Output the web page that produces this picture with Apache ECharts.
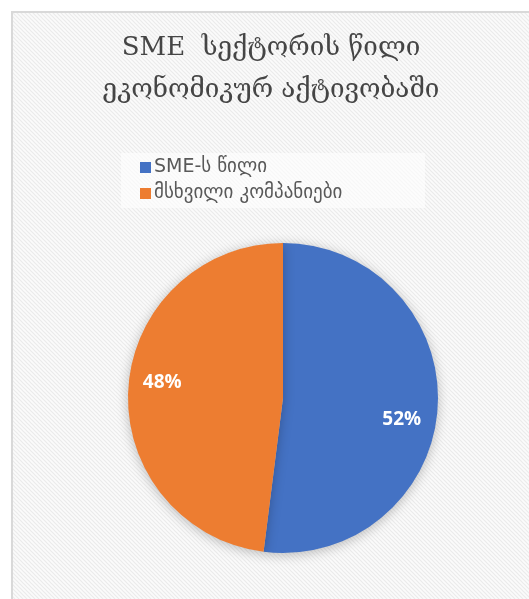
<!DOCTYPE html>
<html>
<head>
<meta charset="utf-8">
<script src="https://cdn.jsdelivr.net/npm/echarts@6/dist/echarts.min.js"></script>
<style>
html,body{margin:0;padding:0;background:#fff;}
#main{width:529px;height:599px;}
</style>
</head>
<body>
<div id="main"></div>
<script>
const titleLines = ['SME  სექტორის წილი', 'ეკონომიკურ აქტივობაში'];
const categories = ['SME-ს წილი', 'მსხვილი კომპანიები'];
const values = [52, 48];
const colors = ['#4472C4', '#ED7D31'];

// diagonal hatch pattern for the chart area
const pc = document.createElement('canvas');
pc.width = 4; pc.height = 4;
const g = pc.getContext('2d');
g.fillStyle = '#fbfbfb'; g.fillRect(0,0,4,4);
g.strokeStyle = '#ebebeb'; g.lineWidth = 1.2;
g.beginPath(); g.moveTo(-1,-1); g.lineTo(5,5); g.moveTo(-1,3); g.lineTo(1,5); g.moveTo(3,-1); g.lineTo(5,1); g.stroke();

const chart = echarts.init(document.getElementById('main'));
const labelOffsets = [[-2, 14], [0, -8]];
const data = categories.map((c, i) => ({ name: c, value: values[i], itemStyle: { color: colors[i] } }));

chart.setOption({
  backgroundColor: '#ffffff',
  animation: false,
  graphic: [
    { type: 'rect', z: -10, shape: { x: 12, y: 12, width: 530, height: 600 },
      style: { fill: { image: pc, repeat: 'repeat' }, stroke: '#d9d9d9', lineWidth: 2 } },
    { type: 'rect', z: -5, shape: { x: 121, y: 153, width: 304, height: 55 },
      style: { fill: 'rgba(255,255,255,0.6)' } }
  ],
  title: {
    text: titleLines.join('\n'),
    left: 266, top: 22, textAlign: 'center',
    textStyle: { fontFamily: 'DejaVu Serif', fontSize: 26, fontWeight: 'normal', color: '#454545', lineHeight: 42 }
  },
  legend: {
    orient: 'vertical', left: 135, top: 153,
    itemWidth: 11, itemHeight: 11, itemGap: 7, icon: 'rect',
    textStyle: { fontFamily: 'DejaVu Sans', fontSize: 19, color: '#595959', padding: [0,0,0,-2] },
    data: categories
  },
  series: [
    {
      type: 'pie', center: [283, 398], radius: 155, startAngle: 90, clockwise: true,
      data: data, label: { show: false }, labelLine: { show: false },
      itemStyle: { shadowBlur: 12, shadowColor: 'rgba(0,0,0,0.25)', shadowOffsetY: 2 },
      emphasis: { disabled: true }, silent: true
    },
    {
      type: 'pie', center: [283, 398], radius: 236, startAngle: 90, clockwise: true,
      data: data.map((d, i) => ({ name: d.name, value: d.value, itemStyle: { color: 'rgba(0,0,0,0)' },
        label: { offset: labelOffsets[i] } })),
      label: { show: true, position: 'inside', formatter: '{d}%', color: '#ffffff',
        fontFamily: 'Open Sans', fontWeight: 'bold', fontSize: 19 },
      labelLine: { show: false }, legendHoverLink: false,
      emphasis: { disabled: true }, silent: true, z: 5
    }
  ]
});
</script>
</body>
</html>
